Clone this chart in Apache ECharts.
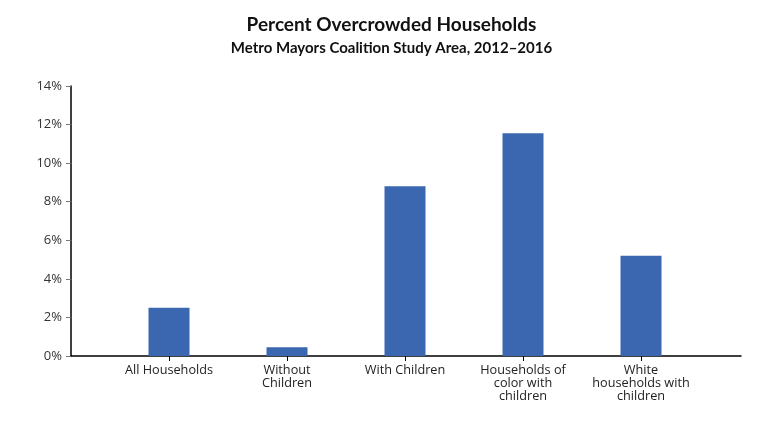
<!DOCTYPE html>
<html lang="en">
<head>
    <meta charset="UTF-8">
    <title>Percent Overcrowded Households</title>
    <script src="https://cdn.jsdelivr.net/npm/echarts@6/dist/echarts.min.js"></script>
</head>
<body style="margin:0;background:#fff;">
    <div id="chart" style="width:783px;height:421px;"></div>
    <script type="text/javascript">
        var categories = ['All Households', 'Without\nChildren', 'With Children',
            'Households of\ncolor with\nchildren', 'White\nhouseholds with\nchildren'];
        var values = [2.5, 0.45, 8.8, 11.55, 5.2];
        var yTicks = [0, 2, 4, 6, 8, 10, 12, 14];

        var chart = echarts.init(document.getElementById('chart'));
        var yMax = yTicks[yTicks.length - 1];

        chart.setOption({
            animation: false,
            title: [{
                text: 'Percent Overcrowded Households',
                left: 'center',
                top: 10,
                textStyle: { fontFamily: 'Lato', fontWeight: 'bold', fontSize: 19, color: '#111' }
            }, {
                text: 'Metro Mayors Coalition Study Area, 2012\u20132016',
                left: 'center',
                top: 36,
                textStyle: { fontFamily: 'Lato', fontWeight: 'bold', fontSize: 15, color: '#111' }
            }],
            grid: [
                { left: 71, right: 42, top: 86, bottom: 65 },
                { left: 110, right: 83, top: 86, bottom: 65 }
            ],
            xAxis: [{
                // long axis line running under the whole plot
                gridIndex: 0, type: 'value', min: 0, max: 1,
                axisLine: { show: true, lineStyle: { color: '#000', width: 1.5 } },
                axisTick: { show: false }, axisLabel: { show: false }, splitLine: { show: false }
            }, {
                gridIndex: 1, type: 'category', data: categories,
                axisLine: { show: false },
                axisTick: { show: true, alignWithLabel: true, length: 5, lineStyle: { color: '#000' } },
                axisLabel: {
                    interval: 0, margin: 8, lineHeight: 13,
                    fontFamily: 'Open Sans', fontSize: 12.7, color: '#222'
                }
            }],
            yAxis: [{
                gridIndex: 0, type: 'value', min: 0, max: yMax, interval: 2,
                axisLine: { show: true, lineStyle: { color: '#000', width: 1.5 } },
                axisTick: { show: true, length: 5, lineStyle: { color: '#777' } },
                axisLabel: { formatter: '{value}%', margin: 9, fontFamily: 'Open Sans', fontSize: 13, color: '#333' },
                splitLine: { show: false }
            }, {
                gridIndex: 1, type: 'value', min: 0, max: yMax, interval: 2, show: false
            }],
            series: [{
                type: 'bar',
                xAxisIndex: 1,
                yAxisIndex: 1,
                data: values,
                barWidth: 41,
                itemStyle: { color: '#3b66b0' }
            }]
        });
    </script>
</body>
</html>
